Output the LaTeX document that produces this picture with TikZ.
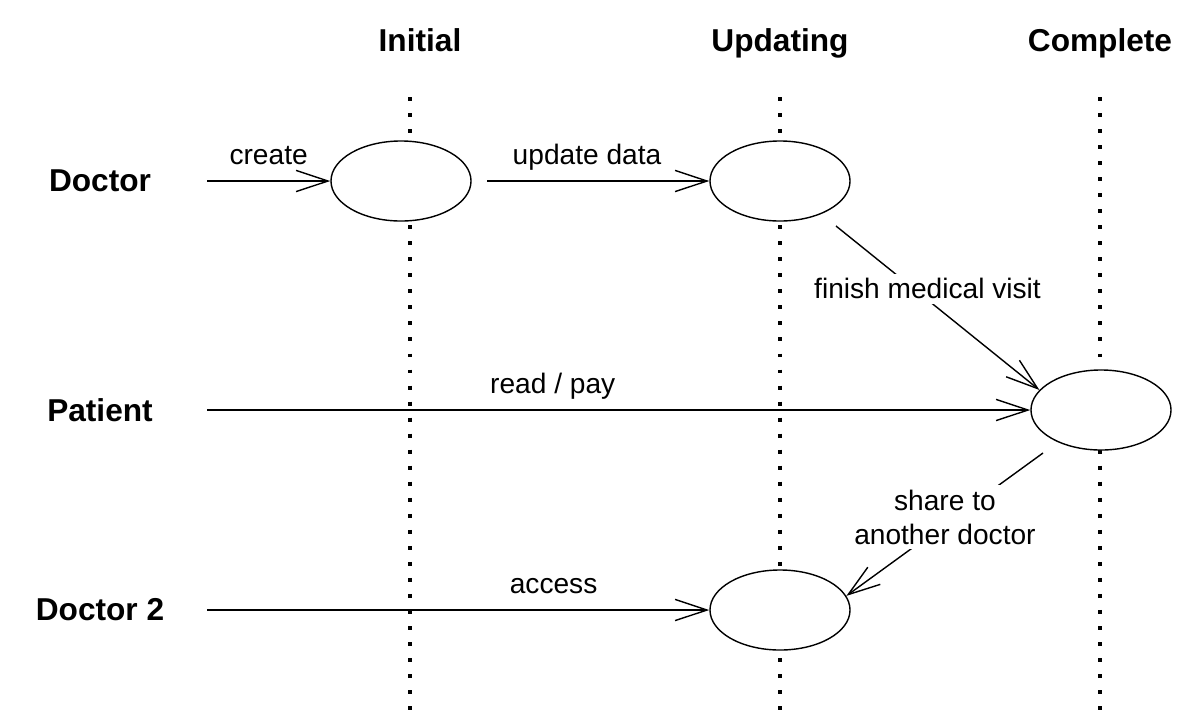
\documentclass[tikz,border=0pt]{standalone}
\usepackage{fontspec}
\setmainfont{Liberation Sans}
\usetikzlibrary{shapes, arrows.meta, positioning, calc}

\begin{document}
\begin{tikzpicture}[
                x = 0.025cm, y = -0.025cm,
                state/.style={ellipse, draw, fill=white, line width=1pt, minimum width=3.5cm, minimum height=2cm, inner sep=0pt},
                actor/.style={font=\fontsize{22.5}{27}\selectfont\bfseries},
                phase/.style={font=\fontsize{22.5}{27}\selectfont\bfseries, anchor=base},
                lane/.style={line width=2.8pt, dash pattern=on 2.8pt off 8.6pt},
                line/.style={-{Straight Barb[length=0.8cm, width=0.53cm]}, line width=1pt},
                lbl/.style={font=\fontsize{20}{24}\selectfont, align=center}
            ]
            \useasboundingbox (0,0) rectangle (1202,726);
            
            % phases
            \node[phase] (Pinit) at (420,51) {Initial};
            \node[phase] (Pupd) at (780,51) {Updating};
            \node[phase] (Pcomp) at (1100,51) {Complete};
            \draw[lane] (410,97) -- (410,712);
            \draw[lane] (780,97) -- (780,712);
            \draw[lane] (1100,97) -- (1100,712);
            
            % actors
            \node[actor] (Adoc) at (100,181) {Doctor};
            \node[actor] (Apat) at (100,410) {Patient};
            \node[actor] (Adoc2) at (100,610) {Doctor 2};
            
            % states
            \node[state] (Sinit) at (401,181) {};
            \node[state] (Supd) at (780,181) {};
            \node[state] (Scomp) at (1101,410) {};
            \node[state] (Sdoc2) at (780,610) {};
            
            \coordinate (C1) at (207,181);
            \coordinate (C2) at (487,181);
            \coordinate (C3) at (836,226);
            \coordinate (C4) at (207,410);
            \coordinate (C5) at (1043,453);
            \coordinate (C6) at (207,610);
            
            \draw[line] (C1) -- node[lbl, anchor=base, yshift=11.4pt] {create} (Sinit.west);
            \draw[line] (C2) -- node[lbl, anchor=base, yshift=11.4pt, pos=0.45] {update data} (Supd.west);
            \draw[line] (C3) -- node[lbl, fill=white, pos=0.45, yshift=8pt] {finish medical visit} (Scomp.162);
            \draw[line] (C4) -- node[lbl, anchor=base, yshift=11.4pt, pos=0.42] {read / pay} (Scomp.west);
            \draw[line] (C5) -- node[lbl, fill=white, pos=0.42, xshift=-11pt, yshift=-3pt] {share to\\another doctor} (Sdoc2.12);
            \draw[line] (C6) -- node[lbl, anchor=base, yshift=11.4pt, pos=0.69] {access} (Sdoc2.west);
        \end{tikzpicture}
\end{document}
